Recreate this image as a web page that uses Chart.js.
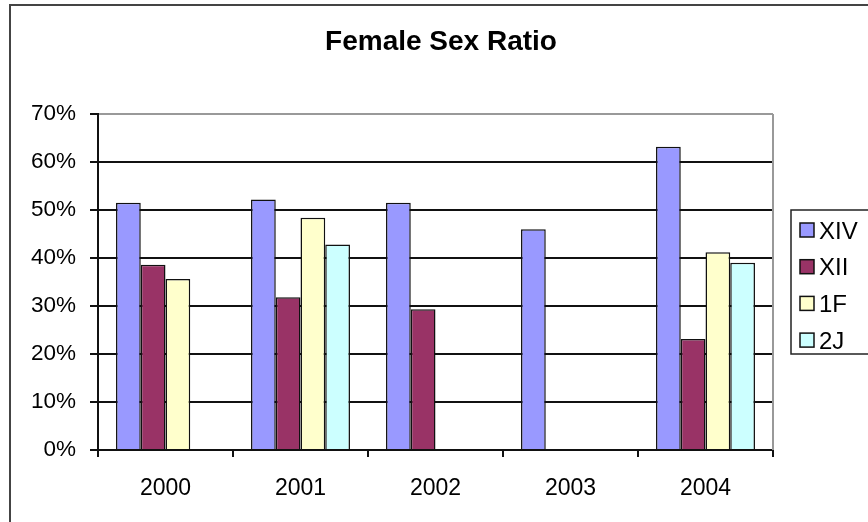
<!DOCTYPE html>
<html>
<head>
<meta charset="utf-8">
<script src="https://cdn.jsdelivr.net/npm/chart.js@4/dist/chart.umd.min.js"></script>
<style>
  html, body { margin: 0; padding: 0; background: #fff; }
  #wrap { position: relative; width: 868px; height: 522px; }
</style>
</head>
<body>
<div id="wrap"><canvas id="sexRatioChart"></canvas></div>
<script>
const years = ['2000', '2001', '2002', '2003', '2004'];
const seriesNames = ['XIV', 'XII', '1F', '2J'];
const xiv = [51.5, 52.2, 51.5, 46.0, 63.2];
const xii = [38.6, 31.8, 29.3, null, 23.1];
const oneF = [35.6, 48.4, null, null, 41.2];
const twoJ = [null, 42.8, null, null, 39.0];
const yTicks = [0, 10, 20, 30, 40, 50, 60, 70];

const colors = ['#9999FF', '#993366', '#FFFFCC', '#CCFFFF'];
const FONT = "'Liberation Sans', Arial, sans-serif";

// frame, title and boxed legend in the old Excel look
const titleAndLegend = {
    id: 'titleAndLegend',
    afterDraw(chart) {
        const ctx = chart.ctx;
        const area = chart.chartArea;
        ctx.save();

        // outer chart frame
        ctx.strokeStyle = '#444';
        ctx.lineWidth = 2;
        ctx.strokeRect(10, 5, 900, 600);

        // plot area border on the right
        ctx.strokeStyle = '#999';
        ctx.lineWidth = 2;
        ctx.beginPath();
        ctx.moveTo(area.right, area.top);
        ctx.lineTo(area.right, area.bottom);
        ctx.stroke();

        // title
        ctx.fillStyle = '#000';
        ctx.font = 'bold 28px ' + FONT;
        ctx.textAlign = 'center';
        ctx.textBaseline = 'alphabetic';
        ctx.fillText('Female Sex Ratio', 441, 50);

        // legend box
        ctx.strokeStyle = '#222';
        ctx.lineWidth = 1.5;
        ctx.strokeRect(791, 210, 120, 144);

        ctx.font = '24px ' + FONT;
        ctx.textAlign = 'left';
        chart.data.datasets.forEach(function(ds, i) {
            const cy = 230 + i * 36.7;
            ctx.fillStyle = ds.backgroundColor;
            ctx.fillRect(800, cy - 7, 14, 14);
            ctx.strokeStyle = '#111';
            ctx.lineWidth = 1.5;
            ctx.strokeRect(800, cy - 7, 14, 14);
            ctx.fillStyle = '#000';
            ctx.fillText(ds.label, 819, cy + 8.5);
        });
        ctx.restore();
    }
};

const values = [xiv, xii, oneF, twoJ];

new Chart(document.getElementById('sexRatioChart'), {
    type: 'bar',

    data: {
        labels: years,
        datasets: seriesNames.map(function(name, i) {
            return {
                label: name,
                data: values[i],
                backgroundColor: colors[i],
                borderColor: '#111',
                borderWidth: 1.5,
                categoryPercentage: 0.733,
                barPercentage: 1
            };
        })
    },

    options: {
        responsive: true,
        maintainAspectRatio: false,
        animation: false,
        layout: {
            padding: { top: 114, right: 95, left: 0, bottom: 0 }
        },

        plugins: {
            legend: { display: false },
            title: { display: false },
            tooltip: { enabled: false }
        },

        scales: {
            y: {
                min: 0,
                max: 70,
                afterFit: function(scale) { scale.width = 98; },
                afterBuildTicks: function(scale) {
                    scale.ticks = yTicks.map(function(v) { return { value: v }; });
                },
                ticks: {
                    padding: 14,
                    color: '#000',
                    font: { family: FONT, size: 22.5 },
                    callback: function(value) { return value + '%'; }
                },
                grid: {
                    color: function(c) { return c.tick && c.tick.value === 70 ? '#999' : '#111'; },
                    tickColor: '#111',
                    lineWidth: 2,
                    tickLength: 8
                },
                border: { display: true, color: '#111', width: 2 }
            },

            x: {
                afterFit: function(scale) { scale.height = 72; },
                ticks: {
                    padding: 18,
                    color: '#000',
                    font: { family: FONT, size: 23 }
                },
                grid: {
                    drawOnChartArea: false,
                    drawTicks: true,
                    offset: true,
                    color: '#111',
                    lineWidth: 2,
                    tickLength: 7
                },
                border: { display: true, color: '#111', width: 2 }
            }
        }
    },
    plugins: [titleAndLegend]
});
</script>
</body>
</html>
